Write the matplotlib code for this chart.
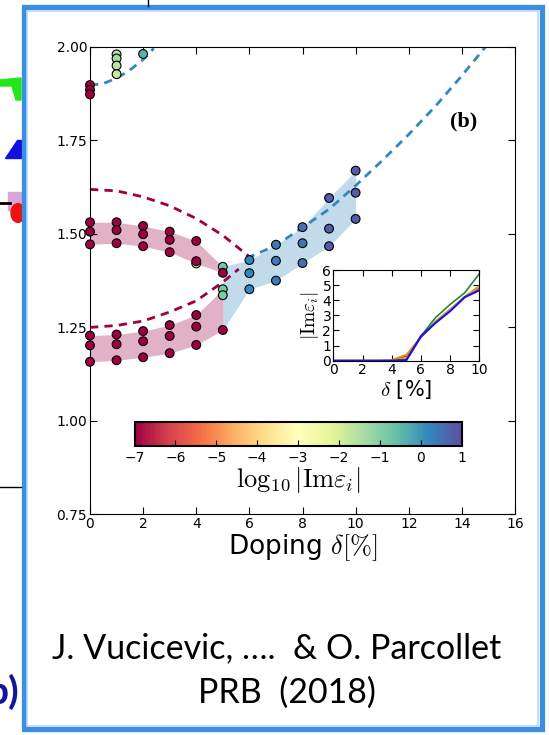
import matplotlib
matplotlib.use("Agg")
import matplotlib.pyplot as plt
from matplotlib import cm, colors
from matplotlib.patches import Rectangle, Polygon, Circle
from matplotlib.lines import Line2D

plt.rcParams['mathtext.fontset'] = 'cm'
plt.rcParams['font.family'] = 'DejaVu Sans'

# ---- data ----
# scatter points: doping, energy, log10|Im eps|
pt_doping = [0, 0, 0, 0, 0, 0, 0, 0, 0,
             1, 1, 1, 1, 1, 1, 1, 1, 1, 1,
             2, 2, 2, 2, 2, 2, 2,
             3, 3, 3, 3, 3, 3,
             4, 4, 4, 4, 4, 4,
             5, 5, 5, 5, 5,
             6, 6, 6,
             7, 7, 7,
             8, 8, 8,
             9, 9, 9,
             10, 10, 10]
pt_energy = [1.897, 1.884, 1.872, 1.530, 1.505, 1.471, 1.227, 1.201, 1.157,
             1.979, 1.968, 1.949, 1.926, 1.530, 1.509, 1.474, 1.230, 1.204, 1.161,
             1.980, 1.520, 1.498, 1.466, 1.239, 1.212, 1.169,
             1.505, 1.483, 1.450, 1.255, 1.226, 1.180,
             1.420, 1.480, 1.426, 1.282, 1.251, 1.202,
             1.411, 1.351, 1.335, 1.395, 1.242,
             1.429, 1.394, 1.351,
             1.470, 1.427, 1.374,
             1.517, 1.474, 1.421,
             1.595, 1.513, 1.466,
             1.668, 1.609, 1.539]
pt_logim = [-7, -7, -7, -7, -7, -7, -7, -7, -7,
            -1.6, -1.3, -1.6, -1.8, -7, -7, -7, -7, -7, -7,
            -0.4, -7, -7, -7, -7, -7, -7,
            -7, -7, -7, -7, -7, -7,
            -2.2, -7, -7, -7, -7, -7,
            -0.8, -0.8, -0.9, -7, -7,
            0.2, 0.2, 0.2,
            0.4, 0.4, 0.4,
            0.5, 0.5, 0.5,
            0.8, 0.8, 0.8,
            0.8, 0.8, 0.8]

# shaded bands
band_doping = [0, 1, 2, 3, 4, 5]
upper_hi = [1.530, 1.530, 1.520, 1.505, 1.480, 1.411]
upper_lo = [1.471, 1.474, 1.466, 1.450, 1.420, 1.395]
lower_hi = [1.227, 1.230, 1.239, 1.255, 1.282, 1.351]
lower_lo = [1.157, 1.161, 1.169, 1.180, 1.202, 1.242]
blue_doping = [5, 6, 7, 8, 9, 10]
blue_hi = [1.411, 1.429, 1.470, 1.517, 1.595, 1.668]
blue_lo = [1.242, 1.351, 1.374, 1.421, 1.466, 1.539]

# dashed curves
red_up_d = [0, 1, 2, 3, 4, 5, 6]
red_up_e = [1.618, 1.614, 1.598, 1.574, 1.540, 1.495, 1.438]
red_lo_d = [0, 1, 2, 3, 4, 5, 5.6]
red_lo_e = [1.249, 1.254, 1.266, 1.290, 1.320, 1.370, 1.405]
blue_top_d = [0, 0.5, 1, 1.5, 2, 2.4]
blue_top_e = [1.896, 1.901, 1.915, 1.937, 1.965, 1.995]
blue_right_d = [5.9, 7, 8, 9, 10, 11, 12, 13, 14, 14.9]
blue_right_e = [1.434, 1.468, 1.516, 1.565, 1.628, 1.695, 1.765, 1.840, 1.922, 2.0]

# inset |Im eps_i| vs doping
inset_d = [0, 1, 2, 3, 4, 5, 6, 7, 8, 9, 10]
inset_red = [0, 0, 0, 0, 0, 0.30, 1.55, 2.55, 3.35, 4.20, 4.85]
inset_orange = [0, 0, 0, 0, 0.05, 0.40, 1.55, 2.60, 3.40, 4.20, 4.90]
inset_gold = [0, 0, 0, 0, 0, 0.20, 1.60, 2.60, 3.40, 4.25, 4.95]
inset_green = [0, 0, 0, 0, 0, 0.05, 1.62, 2.85, 3.72, 4.49, 5.75]
inset_magenta = [0, 0, 0, 0, 0, 0, 1.55, 2.50, 3.30, 4.20, 4.70]
inset_blue = [0, 0, 0, 0, 0, 0.05, 1.62, 2.50, 3.27, 4.20, 4.65]

W, H = 549, 735
def fx(x):
    return x / W
def fy(y):
    return 1 - y / H

fig = plt.figure(figsize=(5.49, 7.35), dpi=100)

# slide frame and stray bits of the neighbouring slide
fig.add_artist(Polygon([(fx(0), fy(80)), (fx(21), fy(78)), (fx(21), fy(100)), (fx(16), fy(100)),
                        (fx(12), fy(86)), (fx(0), fy(86))], closed=True, color='#22e61a',
                       transform=fig.transFigure))
fig.add_artist(Polygon([(fx(5), fy(158)), (fx(21), fy(158)), (fx(21), fy(140)), (fx(17), fy(140))],
                       closed=True, color='#1010e0', transform=fig.transFigure))
fig.add_artist(Rectangle((fx(8), fy(210)), fx(13), 18 / H, color='#d9a6d9', transform=fig.transFigure))
fig.add_artist(Circle((fx(18), fy(213)), 7 / W, color='#ee1111', transform=fig.transFigure))
fig.add_artist(Line2D([fx(0), fx(10)], [fy(203), fy(203)], color='black', lw=2, transform=fig.transFigure))
fig.add_artist(Line2D([fx(0), fx(21)], [fy(487), fy(487)], color='black', lw=1, transform=fig.transFigure))
fig.add_artist(Line2D([fx(148), fx(148)], [fy(0), fy(6)], color='black', lw=1, transform=fig.transFigure))
fig.text(fx(19), fy(692), 'b)', ha='right', va='center', fontsize=28, color='#15159a',
         family='Lato', fontweight='bold')
fig.add_artist(Rectangle((fx(23.5), fy(729)), fx(518), 722 / H, fill=False, ec='#3b8fe3', lw=3.8,
                         transform=fig.transFigure))
fig.add_artist(Rectangle((fx(27), fy(725.5)), fx(511), 715 / H, fill=False, ec='#b9d9f7', lw=1.2,
                         transform=fig.transFigure))

# main panel
ax = fig.add_axes([fx(90), fy(514), fx(515) - fx(90), fy(46.5) - fy(514)])
cmap = plt.get_cmap('Spectral')
norm = colors.Normalize(vmin=-7, vmax=1)

ax.fill_between(band_doping, upper_lo, upper_hi, color='#9e0142', alpha=0.3, lw=0)
ax.fill_between(band_doping, lower_lo, lower_hi, color='#9e0142', alpha=0.3, lw=0)
ax.fill_between(blue_doping, blue_lo, blue_hi, color='#3288bd', alpha=0.3, lw=0)

ax.plot(red_up_d, red_up_e, color='#9e0142', lw=2, dashes=(3, 2.2))
ax.plot(red_lo_d, red_lo_e, color='#9e0142', lw=2, dashes=(3, 2.2))
ax.plot(blue_top_d, blue_top_e, color='#3288bd', lw=2, dashes=(3, 2.2))
ax.plot(blue_right_d, blue_right_e, color='#3288bd', lw=2, dashes=(3, 2.2))

ax.scatter(pt_doping, pt_energy, c=pt_logim, cmap=cmap, norm=norm, s=40,
           edgecolors='black', linewidths=0.8, zorder=3, clip_on=False)

ax.text(14.05, 1.80, '(b)', fontsize=16, fontweight='bold', family='Liberation Serif',
        ha='center', va='center')

ax.set_xlim(0, 16)
ax.set_ylim(0.75, 2.0)
ax.set_xticks(range(0, 17, 2))
ax.set_yticks([0.75, 1.0, 1.25, 1.5, 1.75, 2.0])
ax.set_yticklabels(['0.75', '1.00', '1.25', '1.50', '1.75', '2.00'])
ax.tick_params(direction='in', top=True, right=True, labelsize=10, length=5, pad=2)
ax.set_xlabel(r'Doping $\delta[\%]$', fontsize=19, labelpad=1)

# colorbar inside panel
cax = fig.add_axes([fx(134.5), fy(445.7), fx(461.5) - fx(134.5), fy(421.7) - fy(445.7)])
sm = cm.ScalarMappable(norm=norm, cmap=cmap)
cb = fig.colorbar(sm, cax=cax, orientation='horizontal', ticks=range(-7, 2))
cb.outline.set_linewidth(1.5)
cax.tick_params(direction='in', labelsize=10, length=4, pad=4)
cb.set_label(r'$\log_{10}|\mathrm{Im}\varepsilon_i|$', fontsize=19, labelpad=0)

# inset
axi = fig.add_axes([fx(333.3), fy(360.7), fx(479.3) - fx(333.3), fy(270) - fy(360.7)])
axi.plot(inset_d, inset_red, color='#e8281e', lw=1.2)
axi.plot(inset_d, inset_orange, color='#f08c1e', lw=1.2)
axi.plot(inset_d, inset_gold, color='#c8a82a', lw=1.2)
axi.plot(inset_d, inset_green, color='#1e8c32', lw=1.2)
axi.plot(inset_d, inset_magenta, color='#d21ed2', lw=1.2)
axi.plot(inset_d, inset_blue, color='#1414e6', lw=1.4)
axi.set_xlim(0, 10)
axi.set_ylim(0, 6)
axi.set_xticks(range(0, 11, 2))
axi.set_yticks(range(0, 7))
axi.tick_params(direction='in', top=True, right=True, labelsize=10, length=4, pad=1.5)
axi.set_xlabel(r'$\delta$ [%]', fontsize=15, labelpad=1)
axi.set_ylabel(r'$|\mathrm{Im}\varepsilon_i|$', fontsize=14, labelpad=1)

# citation
fig.text(fx(277), fy(648), 'J. Vucicevic, ….  & O. Parcollet', ha='center', va='center',
         fontsize=24.5, family='Lato')
fig.text(fx(287), fy(693), 'PRB  (2018)', ha='center', va='center', fontsize=24.5, family='Lato')

fig.savefig('out.png', dpi=100)
